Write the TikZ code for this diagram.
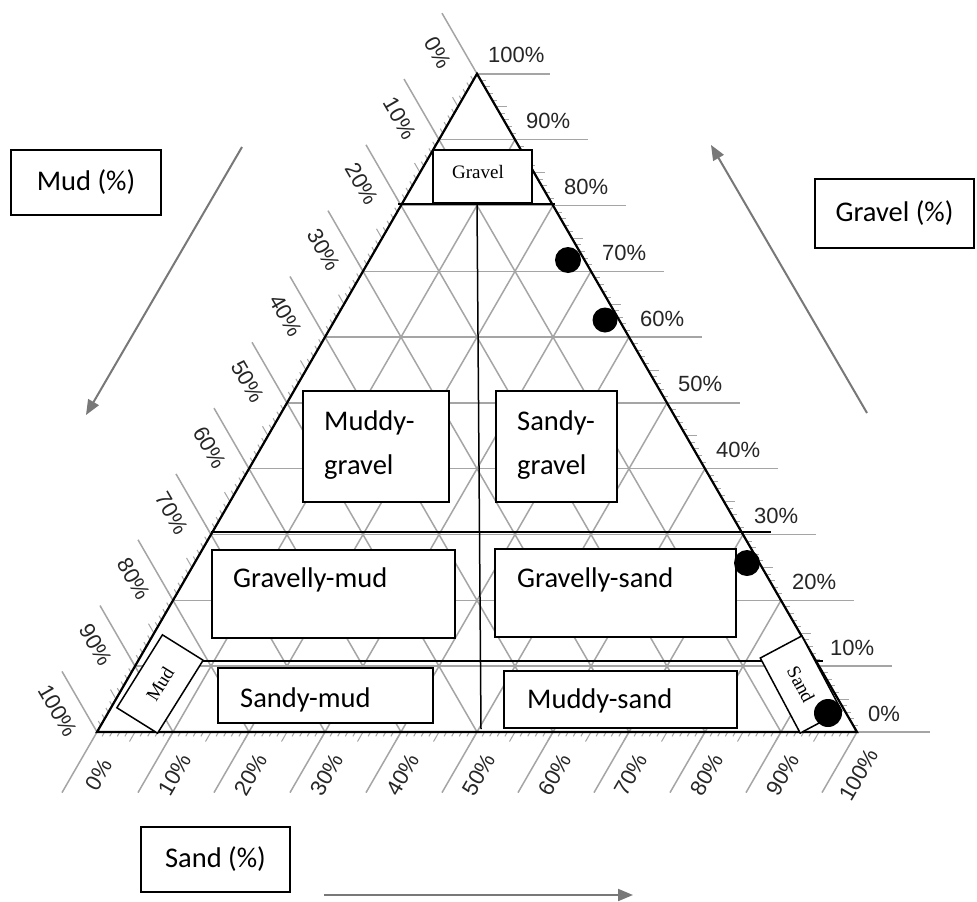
\documentclass[tikz,border=0pt]{standalone}
\usepackage{fontspec}
\setmainfont{Carlito}
\newfontfamily\serifbox{Liberation Serif}
\newfontfamily\tickfnt{Liberation Sans}
\usetikzlibrary{calc,arrows.meta}
\definecolor{gridgray}{RGB}{165,165,165}
\definecolor{arrowgray}{RGB}{120,120,120}
\begin{document}
\begin{tikzpicture}[x=1pt,y=-1pt,
  grid/.style={draw=gridgray, line width=1.5pt},
  tck/.style={draw=gridgray, line width=1pt},
  tl/.style={font=\tickfnt\fontsize{22}{22}\selectfont, inner sep=0pt, text=black!85},
  lbl/.style={font=\fontsize{28.5}{34}\selectfont, inner sep=0pt},
  sbox/.style={font=\serifbox\fontsize{19}{20}\selectfont},
  box/.style={draw=black, line width=1.5pt, fill=white, inner sep=0pt, outer sep=0pt},
  cls/.style={draw=black, line width=1.5pt},
  garrow/.style={draw=arrowgray, line width=2pt, -{Triangle[length=15pt,width=12pt]}},
  dot/.style={circle, fill=black, inner sep=0pt}
]
\fill[white] (0,0) rectangle (977,902);
\useasboundingbox (0,0) rectangle (977,902);

\coordinate (L) at (97,732);
\coordinate (R) at (857,732);
\coordinate (A) at (477,73.8);

% grid lines with their outer extensions
\foreach \k in {0,...,10}{
  \draw[grid] ($(L)!\k/10!(A)$) -- ($(R)!\k/10!(A)$) -- ++(73,0);
  \draw[grid] ($(R)!\k/10!(L)$) -- ($(A)!\k/10!(L)$) -- ++(-35,-60.6);
  \draw[grid] ($(A)!\k/10!(R)$) -- ($(L)!\k/10!(R)$) -- ++(-35,60.6);
}
% ticks
\foreach \j in {1,...,99}{
  \pgfmathsetmacro\tlen{mod(\j,5)==0 ? 11 : 5}
  \draw[tck] ($(R)!\j/100!(A)$) -- ++(\tlen,0);
  \draw[tck] ($(A)!\j/100!(L)$) -- ++({-0.5*\tlen},{-0.866*\tlen});
  \draw[tck] ($(L)!\j/100!(R)$) -- ++({-0.5*\tlen},{0.866*\tlen});
}
% triangle
\draw[line width=2.2pt, line join=miter] (L) -- (R) -- (A) -- cycle;

% tick labels
\foreach \k in {0,...,10}{
  \pgfmathtruncatemacro\v{\k*10}
  \node[tl, anchor=base west] (gl\k) at ($(R)!\k/10!(A)+(11,-11)$) {\v\%};
  \node[tl, rotate=-60] (ml\k) at ($(A)!\k/10!(L)+(-38.9,-21.4)$) {\v\%};
  \node[tl, rotate=60] (sl\k) at ($(L)!\k/10!(R)+(1.9,42.7)$) {\v\%};
}

% classification lines
\draw[cls] (398,204) -- (555,204);
\draw[cls] (477,204) -- (481,729);
\draw[cls] (211,532) -- (771,532);
\draw[cls] (203,661) -- (823,661);

% class boxes
\node[box, sbox, minimum width=99, minimum height=53, anchor=north west] (gbox) at (433,150) {};
\node[sbox, inner sep=0pt] (gtxt) at (478,172) {Gravel};

\node[box, minimum width=146, minimum height=111, anchor=north west] (mgbox) at (303,391) {};
\node[lbl, anchor=base west] (mg1) at (324,430) {Muddy-};
\node[lbl, anchor=base west] (mg2) at (324,474) {gravel};

\node[box, minimum width=121, minimum height=111, anchor=north west] (sgbox) at (496,391) {};
\node[lbl, anchor=base west] (sg1) at (517,430) {Sandy-};
\node[lbl, anchor=base west] (sg2) at (517,474) {gravel};

\node[box, minimum width=243, minimum height=88, anchor=north west] (gmbox) at (212,550) {};
\node[lbl, anchor=base west] (gm) at (233,587) {Gravelly-mud};

\node[box, minimum width=241, minimum height=88, anchor=north west] (gsbox) at (495,549) {};
\node[lbl, anchor=base west] (gs) at (517,587) {Gravelly-sand};

\node[box, minimum width=215, minimum height=55, anchor=north west] (smbox) at (218,668) {};
\node[lbl, anchor=base west] (sm) at (240,707) {Sandy-mud};

\node[box, minimum width=233, minimum height=57, anchor=north west] (msbox) at (504,671) {};
\node[lbl, anchor=base west] (ms) at (527,708) {Muddy-sand};

\node[box, sbox, rotate=58, minimum width=86, minimum height=48] (mudbox) at (160,684) {Mud};
\node[box, sbox, rotate=-62, minimum width=85, minimum height=47] (sandbox) at (801,684.5) {Sand};

% sample points
\node[dot, minimum size=26] (p1) at (568,260) {};
\node[dot, minimum size=25] (p2) at (605,320) {};
\node[dot, minimum size=26] (p3) at (747,563) {};
\node[dot, minimum size=28] (p4) at (828,713) {};

% axis captions and arrows
\node[box, lbl, minimum width=150, minimum height=65] (mudax) at (86,182.5) {Mud (\%)};
\node[box, lbl, minimum width=159, minimum height=69] (gravax) at (894.5,213.5) {Gravel (\%)};
\node[box, lbl, minimum width=149, minimum height=65] (sandax) at (215.5,859.5) {Sand (\%)};

\coordinate (ma1) at (242,147);
\coordinate (ma2) at (86,415);
\coordinate (ga1) at (867,413);
\coordinate (ga2) at (711,145);
\coordinate (sa1) at (324,895);
\coordinate (sa2) at (633,895);
\draw[garrow] (ma1) -- (ma2);
\draw[garrow] (ga1) -- (ga2);
\draw[garrow] (sa1) -- (sa2);
\end{tikzpicture}
\end{document}
